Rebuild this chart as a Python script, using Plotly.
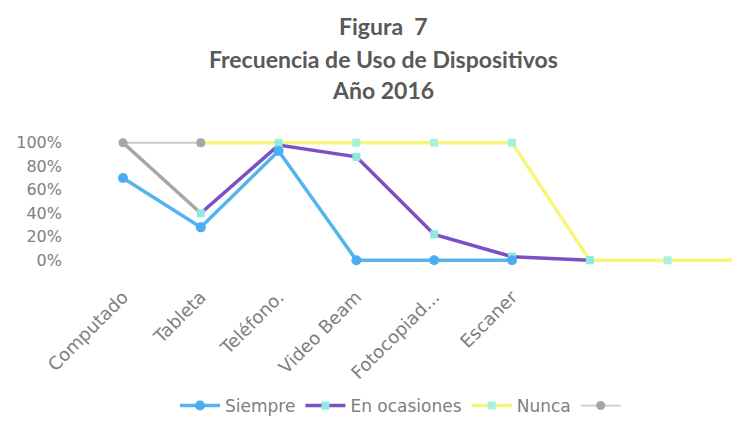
import plotly.graph_objects as go

# ---- data ----
categorias = ["Computado", "Tableta", "Teléfono.", "Video Beam", "Fotocopiad...", "Escaner", "", "", ""]
siempre = [0.70, 0.28, 0.93, 0.0, 0.0, 0.0]
en_ocasiones = [None, 0.40, 0.98, 0.88, 0.22, 0.03, 0.0]
nunca = [None, 1.0, 1.0, 1.0, 1.0, 1.0, 0.0, 0.0, 0.0]
gris = [1.0, 1.0]
gris_caida = [1.0, 0.40]
y_ticks = [0, 0.2, 0.4, 0.6, 0.8, 1.0]
y_tick_labels = ["0%", "20%", "40%", "60%", "80%", "100%"]
titulo = ["Figura  7", "Frecuencia de Uso de Dispositivos", "Año 2016"]

pos = list(range(len(categorias)))

FONT = "DejaVu Sans"
fig = go.Figure()

fig.add_trace(go.Scatter(
    x=pos[:len(nunca)], y=nunca, name="Nunca", mode="lines+markers",
    line=dict(color="#f6f67a", width=3.5),
    marker=dict(symbol="square", size=8, color="#a8f0df"),
    legendrank=3))
fig.add_trace(go.Scatter(
    x=pos[:len(gris_caida)], y=gris_caida, mode="lines", showlegend=False,
    line=dict(color="#a6a6a6", width=3.5)))
fig.add_trace(go.Scatter(
    x=pos[:len(gris)], y=gris, name=" ", mode="lines+markers",
    line=dict(color="#c9c9c9", width=1.8),
    marker=dict(symbol="circle", size=9, color="#a6a6a6"),
    legendrank=4))
fig.add_trace(go.Scatter(
    x=pos[:len(en_ocasiones)], y=en_ocasiones, name="En ocasiones", mode="lines+markers",
    line=dict(color="#7b4fc6", width=3.5),
    marker=dict(symbol="square", size=8, color="#8eeadf"),
    legendrank=2))
fig.add_trace(go.Scatter(
    x=pos[:len(siempre)], y=siempre, name="Siempre", mode="lines+markers",
    line=dict(color="#55b4ee", width=3.5),
    marker=dict(symbol="circle", size=10, color="#4aaef0"),
    legendrank=1))

# page body has an 8px margin: lay out in figure coordinates = reference - 8
W, H = 732, 416
L, R, T = 55, 0, 122
B = H - 267
plot_w = W - L - R
plot_h = H - T - B
x0, dx = 115, 77.8
y0px, y100px = 255, 135
ppu = y0px - y100px

annotations = []
for txt, py in zip(titulo, [16, 49, 81]):
    annotations.append(dict(
        text=txt, xref="paper", yref="paper",
        x=(375 - L) / plot_w, y=(H - B - py) / plot_h,
        xanchor="center", yanchor="middle", showarrow=False,
        font=dict(family="Lato", size=23, color="#595959", weight="bold")))

fig.update_layout(
    width=W, height=H,
    margin=dict(l=L, r=R, t=T, b=B),
    paper_bgcolor="white", plot_bgcolor="white",
    annotations=annotations,
    showlegend=True,
    legend=dict(orientation="h", x=(398 - L) / plot_w, xanchor="center",
                y=(H - B - 404) / plot_h, yanchor="middle",
                font=dict(family=FONT, size=17, color="#7f7f7f"),
                itemwidth=40, tracegroupgap=0),
    xaxis=dict(range=[(L - x0) / dx, (W - x0) / dx],
               tickvals=pos, ticktext=categorias, tickangle=-45,
               ticklabelstandoff=10,
               showgrid=False, zeroline=False, showline=False, ticks="",
               tickfont=dict(family=FONT, size=18, color="#808080")),
    yaxis=dict(range=[-(H - B - y0px) / ppu, 1 + (y100px - T) / ppu],
               tickvals=y_ticks, ticktext=y_tick_labels,
               showgrid=False, zeroline=False, showline=False, ticks="",
               tickfont=dict(family=FONT, size=16, color="#808080")),
)

fig.write_html("out.html")
